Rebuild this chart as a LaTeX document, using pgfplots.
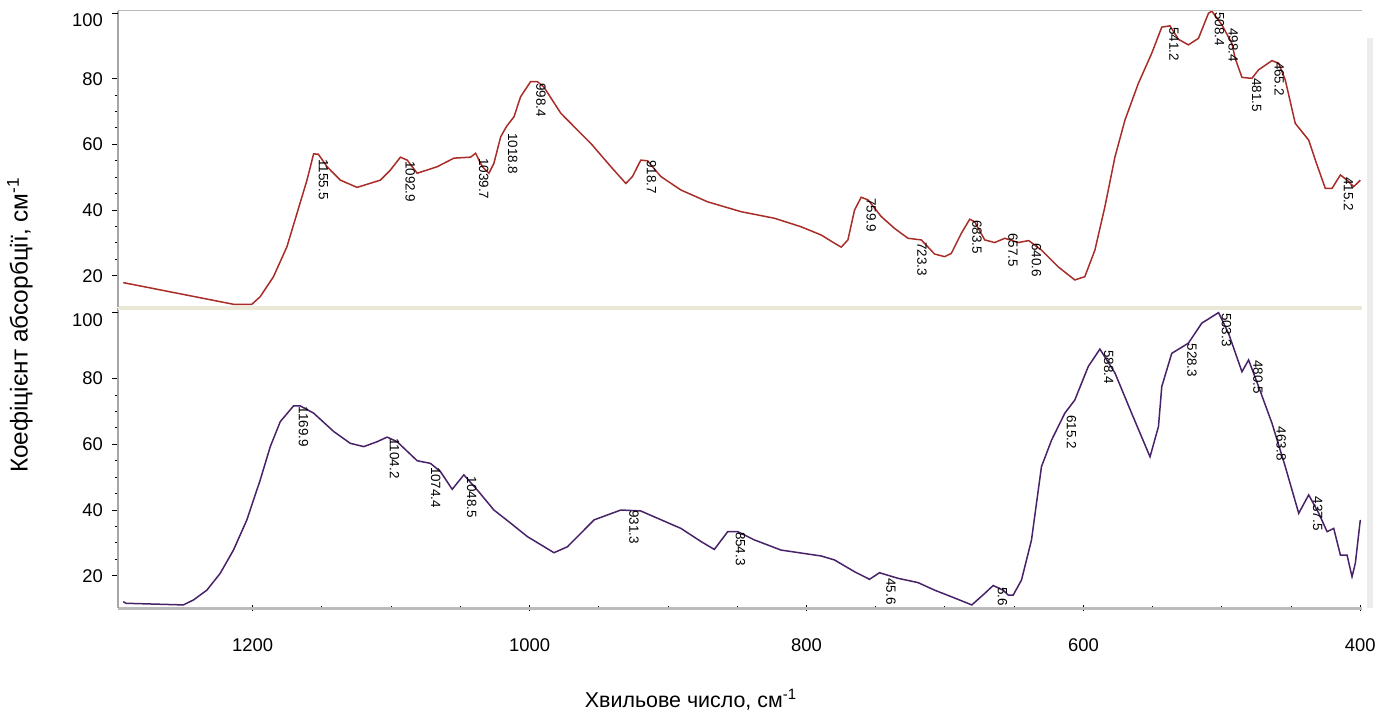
\documentclass[border=0pt]{standalone}
\usepackage{fontspec}
\setmainfont{Liberation Sans}
\usepackage{pgfplots}
\pgfplotsset{compat=1.18}
\definecolor{topc}{RGB}{168,45,40}
\definecolor{botc}{RGB}{72,34,104}
\definecolor{bandgray}{RGB}{188,188,188}
\definecolor{beige}{RGB}{234,232,214}
\pgfplotsset{
  spec/.style={
    scale only axis, width=622pt,
    x dir=reverse, xmin=398.8, xmax=1297.3,
    axis x line*=bottom, axis y line*=left,
    y axis line style={draw=gray!70, line width=0.6pt},
    ytick={20,40,60,80}, minor y tick num=3,
    extra y ticks={100},
    extra y tick style={yticklabel style={yshift=-3.5pt}},
    ytick align=outside,
    major tick length=3pt, minor tick length=1.6pt,
    tick style={black, line width=0.5pt},
    /pgf/number format/assume math mode=true,
    /pgf/number format/1000 sep={},
    tick label style={font=\fontsize{9.2}{10}\selectfont},
    yticklabel style={xshift=-1pt},
    every axis plot/.append style={line width=0.75pt},
  },
}
\tikzset{pk/.style={font=\fontsize{6.7}{7}\selectfont, inner sep=0pt, xshift=2.3pt, rotate=-90, anchor=base west}}
\begin{document}
\begin{tikzpicture}
\useasboundingbox (-59pt,-56pt) rectangle (631.5pt,304pt);
% ---------------- bottom panel
\begin{axis}[spec, at={(0pt,0pt)}, height=150pt, ymin=10.16, ymax=101.5,
  xtick={400,600,800,1000,1200}, minor x tick num=3, xtick align=center,
  x axis line style={draw=bandgray, line width=1.5pt},
  xticklabel style={yshift=-10.5pt}]
\addplot[botc] coordinates {
(1293.5,12.1)(1291.5,11.6)(1250.1,11.1)(1242.8,12.6)(1233.1,15.6)(1223.5,20.7)
(1213.9,27.8)(1204.2,37)(1194.6,49.1)(1187.3,59.3)(1180.1,66.9)(1170.5,71.7)
(1165.7,71.7)(1156.0,69.5)(1141.5,63.9)(1129.5,60.3)(1119.8,59.3)(1110.1,60.8)
(1102.9,62.2)(1095.7,60.8)(1081.2,55)(1071.6,54.2)(1064.4,51.7)(1055.9,46.3)
(1047.5,50.7)(1037.8,46.1)(1025.8,40)(1013.7,36)(1001.6,31.9)(982.4,27)
(972.7,28.8)(953.4,37)(934.1,40)(919.7,39.7)(890.7,34.4)(876.2,30.4)(866.6,28)
(856.9,33.4)(849.7,33.4)(837.7,30.9)(818.4,27.8)(789.4,26)(779.8,24.8)
(765.3,21.2)(754.5,18.9)(747.3,20.9)(733.9,19.2)(719.5,17.9)(707.5,15.6)
(695.4,13.6)(680.6,11.1)(671.3,14.6)(665.2,17)(658.0,15.6)(654.3,14.1)
(650.7,14.1)(644.7,18.7)(637.5,30.9)(630.3,53.2)(623.0,61.3)(613.4,69.5)
(606.2,73.5)(596.5,83.7)(588.1,89)(577.2,81.7)(565.2,69.5)(551.9,56.2)
(545.8,65.4)(543.4,77.6)(536.2,87.7)(524.2,90.8)(514.5,96.9)(502.4,100.1)
(495.2,93.8)(485.5,82.1)(480.7,85.7)(473.5,77.6)(463.8,66.4)(454.2,53.2)
(444.5,39)(437.3,44.6)(430.0,39)(424.0,33.4)(419.2,34.4)(414.4,26.3)
(409.6,26.3)(406.0,19.7)(403.6,23.8)(400.0,37)
};
\node[pk] at (axis cs:1169.9,71.5) {1169.9};
\node[pk] at (axis cs:1104.2,61.9) {1104.2};
\node[pk] at (axis cs:1074.4,53.2) {1074.4};
\node[pk] at (axis cs:1048.5,50.2) {1048.5};
\node[pk] at (axis cs:931.3,40) {931.3};
\node[pk] at (axis cs:854.3,33.4) {854.3};
\node[pk] at (axis cs:745.6,19.3) {45.6};
\node[pk] at (axis cs:665.1,16.6) {5.6};
\node[pk] at (axis cs:615.2,69) {615.2};
\node[pk] at (axis cs:588.4,88.8) {588.4};
\node[pk] at (axis cs:528.3,90.8) {528.3};
\node[pk] at (axis cs:503.3,100.1) {503.3};
\node[pk] at (axis cs:480.5,85.7) {480.5};
\node[pk] at (axis cs:463.8,65.4) {463.8};
\node[pk] at (axis cs:437.5,44.1) {437.5};
\end{axis}
% ---------------- top panel
\begin{axis}[spec, at={(0pt,150.5pt)}, height=148.15pt, ymin=10.47, ymax=100.7,
  xtick=\empty,
  x axis line style={draw=beige, line width=1.5pt}]
\addplot[topc] coordinates {
(1293.5,17.9)(1213.9,11.3)(1200.6,11.3)(1194.6,13.6)(1185.0,19.7)(1175.3,28.8)
(1168.0,39)(1160.8,49.1)(1156.0,57.1)(1152.6,57.0)(1146.3,53.2)(1136.7,49.1)
(1124.6,46.9)(1107.8,49.1)(1100.5,52.2)(1093.3,56.1)(1088.4,55.2)(1081.2,51.2)
(1066.7,53.2)(1054.7,55.8)(1042.6,56.1)(1039.0,57.3)(1034.2,53.2)(1029.4,51.2)
(1025.8,54.2)(1020.9,62.3)(1016.6,65.5)(1011.3,68.4)(1006.5,74.5)(999.3,79.1)
(994.4,79.1)(989.6,77.4)(977.5,69.5)(967.9,65.4)(955.8,60.3)(941.3,53.2)
(930.5,48.1)(925.7,50.2)(919.7,55.2)(914.8,55.0)(905.2,50.2)(890.7,46.1)
(871.4,42.5)(847.3,39.5)(823.2,37.5)(803.9,34.9)(789.4,32.4)(779.8,29.9)
(774.9,28.7)(770.1,30.9)(765.3,40)(760.5,43.9)(755.6,43.1)(746.0,38)
(736.4,34.4)(726.7,31.4)(717.1,30.9)(707.5,26.6)(700.2,25.8)(695.4,26.8)
(688.2,32.9)(682.1,37.2)(678.5,36.4)(671.3,30.9)(664.1,30.1)(656.8,31.4)
(647.1,30.1)(639.5,30.7)(630.3,27.8)(618.2,22.7)(606.2,18.7)(599.0,19.7)
(591.7,27.8)(584.5,41)(577.2,56.2)(570.0,67.4)(560.3,78.6)(550.7,87.7)
(543.4,95.7)(537.5,96.1)(531.4,92)(524.2,90.3)(516.9,92.3)(509.7,99.9)
(507.3,100.6)(500.0,96.4)(492.8,90.8)(490.4,86.2)(485.5,80.4)(478.3,80.1)
(473.5,82.7)(463.8,85.5)(459.0,84.7)(454.2,79.6)(447.0,66.4)(437.3,61.3)
(432.5,55.2)(425.3,46.6)(420.4,46.6)(414.4,50.7)(409.6,49.1)(404.8,47.1)
(400.0,49.1)
};
\node[pk] at (axis cs:1155.5,55.5) {1155.5};
\node[pk] at (axis cs:1092.9,55.0) {1092.9};
\node[pk] at (axis cs:1039.7,55.9) {1039.7};
\node[pk] at (axis cs:1018.8,63.5) {1018.8};
\node[pk] at (axis cs:998.4,78.7) {998.4};
\node[pk] at (axis cs:918.7,55.2) {918.7};
\node[pk] at (axis cs:759.9,43.7) {759.9};
\node[pk] at (axis cs:723.3,30.3) {723.3};
\node[pk] at (axis cs:683.5,37) {683.5};
\node[pk] at (axis cs:657.5,33) {657.5};
\node[pk] at (axis cs:640.6,30) {640.6};
\node[pk] at (axis cs:541.2,95.8) {541.2};
\node[pk] at (axis cs:508.4,100.4) {508.4};
\node[pk] at (axis cs:498.4,95.5) {498.4};
\node[pk] at (axis cs:481.5,80.3) {481.5};
\node[pk] at (axis cs:465.2,85.2) {465.2};
\node[pk] at (axis cs:415.2,50.1) {415.2};
\end{axis}
% frame decorations
\draw[gray!55, line width=0.6pt] (0pt,298.65pt) -- (622pt,298.65pt);
\draw[beige, line width=1.2pt] (0pt,149.6pt) -- (622pt,149.6pt);
\draw[gray!15, line width=3pt] (626pt,0pt) -- (626pt,285pt);
% axis titles
\node[rotate=90, font=\fontsize{12.2}{14}\selectfont] at (-49pt,141.5pt) {Коефіцієнт абсорбції, см\textsuperscript{-1}};
\node[font=\fontsize{10.7}{12}\selectfont] at (286.5pt,-46pt) {Хвильове число, см\textsuperscript{-1}};
\end{tikzpicture}
\end{document}
